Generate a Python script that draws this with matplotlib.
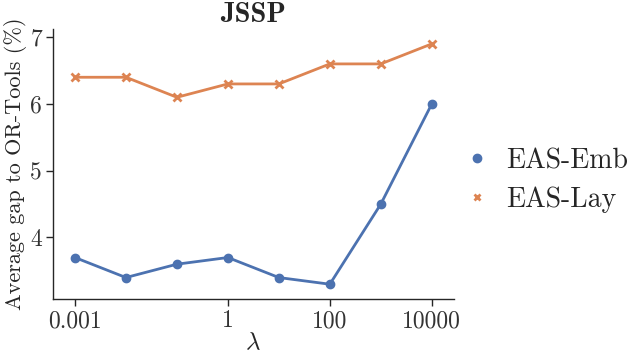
import matplotlib as mpl
mpl.use('Agg')

import matplotlib.pyplot as plt
from matplotlib.lines import Line2D
import seaborn as sns

# data
lambdas = [0.001, 0.01, 0.1, 1, 10, 100, 1000, 10000]
gap_emb = [3.7, 3.4, 3.6, 3.7, 3.4, 3.3, 4.5, 6.0]
gap_lay = [6.4, 6.4, 6.1, 6.3, 6.3, 6.6, 6.6, 6.9]
xtick_vals = [0.001, 1, 100, 10000]
xtick_labels = ['0.001', '1', '100', '10000']
ytick_vals = [4, 5, 6, 7]

sns.set_style('ticks')
plt.rcParams['font.family'] = ['cmr10', 'DejaVu Sans']
plt.rcParams['mathtext.fontset'] = 'cm'
plt.rcParams['axes.unicode_minus'] = False

blue = '#4C72B0'
orange = '#DD8452'
txt = '#262626'

fig = plt.figure(figsize=(6.39, 3.61), dpi=100)
ax = fig.add_axes([0.083, 0.172, 0.627, 0.749])

ax.plot(lambdas, gap_emb, color=blue, linewidth=2.0, marker='o', markersize=6)
ax.plot(lambdas, gap_lay, color=orange, linewidth=2.0, marker='x', markersize=5.5,
        markeredgewidth=2.0)

ax.set_xscale('log')
ax.set_xlim(10 ** -3.43, 10 ** 4.43)
ax.set_ylim(3.08, 7.13)
ax.minorticks_off()
ax.set_xticks(xtick_vals)
ax.set_xticklabels(xtick_labels)
ax.set_yticks(ytick_vals)
ax.set_yticklabels([str(v) for v in ytick_vals])
ax.tick_params(axis='both', labelsize=17, colors=txt, length=5, width=1.0, pad=3)
for lab in ax.get_xticklabels() + ax.get_yticklabels():
    lab.set_color('#333333')

for s in ['left', 'bottom']:
    ax.spines[s].set_color(txt)
    ax.spines[s].set_linewidth(1.0)
sns.despine(ax=ax)

ax.set_xlabel(r'$\lambda$', fontsize=18, color=txt, labelpad=0)
ax.set_ylabel('Average gap to OR-Tools (%)', fontsize=16, color=txt, labelpad=2)
ax.set_title('JSSP', fontsize=20.5, fontfamily='cmb10', color=txt, pad=5)

handles = [
    Line2D([], [], linestyle='none', marker='o', color=blue, markersize=6),
    Line2D([], [], linestyle='none', marker='x', color=orange, markersize=5,
           markeredgewidth=2.0),
]
fig.legend(handles, ['EAS-Emb', 'EAS-Lay'], loc='center left',
           bbox_to_anchor=(0.681, 0.5), frameon=False, fontsize=20,
           labelspacing=0.45, handletextpad=0.45, handlelength=1.2,
           labelcolor=txt)

fig.savefig('out.png', dpi=100)
